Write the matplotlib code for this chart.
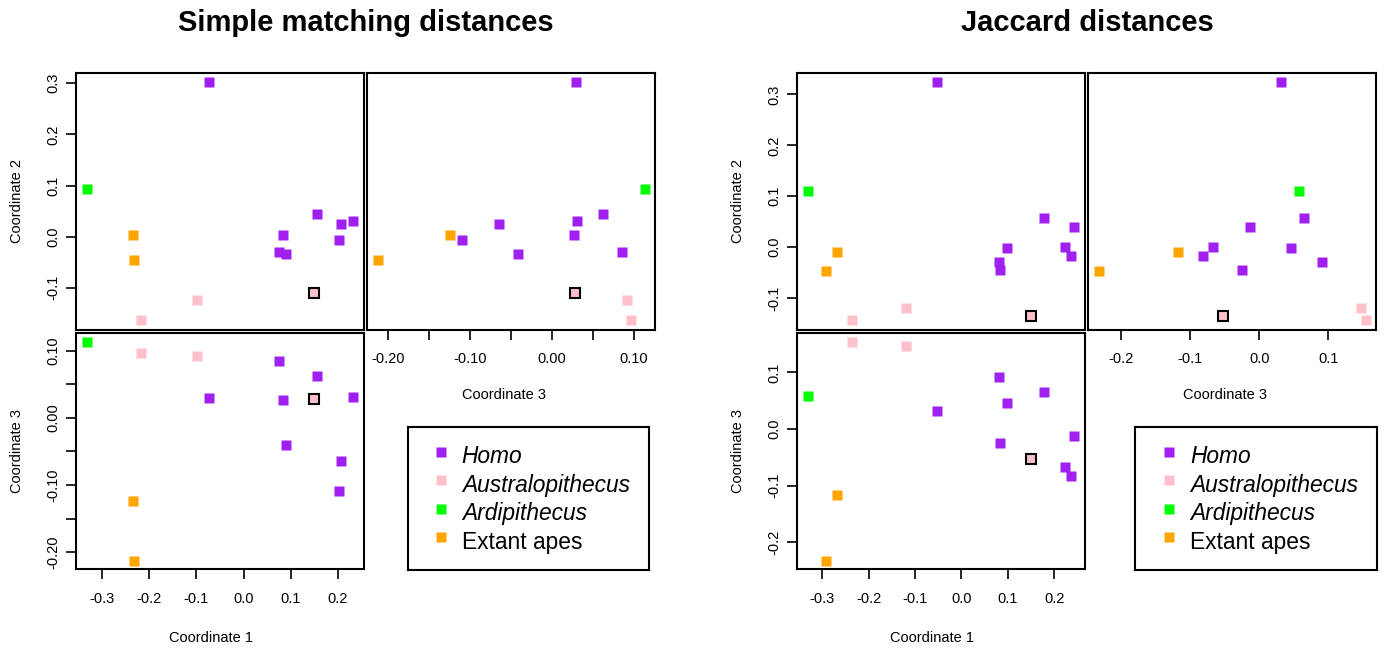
import matplotlib
matplotlib.use("Agg")
import matplotlib.pyplot as plt
from matplotlib.ticker import FixedLocator, FixedFormatter

plt.rcParams['font.family'] = ['Liberation Sans', 'DejaVu Sans']
plt.rcParams['axes.unicode_minus'] = False

W, H = 1385, 649

# ---------------- data ----------------
groups = ["Homo", "Homo", "Homo", "Homo", "Homo", "Homo", "Homo", "Homo",
          "Australopithecus", "Australopithecus", "Ardipithecus",
          "Extant apes", "Extant apes", "Special"]

sm_c1 = [-0.074, 0.084, 0.076, 0.091, 0.156, 0.206, 0.233, 0.203,
         -0.099, -0.217, -0.333, -0.234, -0.233, 0.149]
sm_c2 = [0.302, 0.004, -0.031, -0.033, 0.045, 0.024, 0.030, -0.006,
         -0.124, -0.163, 0.094, 0.003, -0.045, -0.110]
sm_c3 = [0.029, 0.027, 0.085, -0.041, 0.062, -0.064, 0.031, -0.109,
         0.092, 0.096, 0.113, -0.124, -0.212, 0.028]

jc_c1 = [-0.053, 0.097, 0.080, 0.084, 0.177, 0.223, 0.243, 0.236,
         -0.119, -0.235, -0.331, -0.267, -0.292, 0.149]
jc_c2 = [0.324, -0.002, -0.030, -0.045, 0.057, 0.001, 0.039, -0.018,
         -0.120, -0.143, 0.110, -0.009, -0.047, -0.136]
jc_c3 = [0.032, 0.046, 0.091, -0.025, 0.065, -0.067, -0.013, -0.082,
         0.147, 0.154, 0.058, -0.117, -0.232, -0.053]

legend_labels = ["Homo", "Australopithecus", "Ardipithecus", "Extant apes"]
legend_italic = [True, True, True, False]
colors = {"Homo": "#A020F0", "Australopithecus": "#FFC0CB",
          "Ardipithecus": "#00FF00", "Extant apes": "#FFA500",
          "Special": "#FFC0CB"}

titles = ["Simple matching distances", "Jaccard distances"]

# tick specs: (major ticks, labels, minor ticks)
sm_c1_ticks = ([-0.3, -0.2, -0.1, 0.0, 0.1, 0.2],
               ["-0.3", "-0.2", "-0.1", "0.0", "0.1", "0.2"], [])
sm_c2_ticks = ([-0.1, 0.0, 0.1, 0.2, 0.3],
               ["-0.1", "0.0", "0.1", "0.2", "0.3"], [])
sm_c3_ticks = ([-0.20, -0.10, 0.00, 0.10],
               ["-0.20", "-0.10", "0.00", "0.10"], [-0.15, -0.05, 0.05])
jc_c1_ticks = ([-0.3, -0.2, -0.1, 0.0, 0.1, 0.2],
               ["-0.3", "-0.2", "-0.1", "0.0", "0.1", "0.2"], [])
jc_c2_ticks = ([-0.1, 0.0, 0.1, 0.2, 0.3],
               ["-0.1", "0.0", "0.1", "0.2", "0.3"], [])
jc_c3_ticks = ([-0.2, -0.1, 0.0, 0.1],
               ["-0.2", "-0.1", "0.0", "0.1"], [])

# ---------------- layout ----------------
def rect(x0, y0, x1, y1):
    return [x0 / W, 1 - y1 / H, (x1 - x0) / W, (y1 - y0) / H]

fig = plt.figure(figsize=(W / 100, H / 100), dpi=100)

TICK_FS = 10.5
LAB_FS = 10.5
SPINE_LW = 1.5


def style(ax):
    for s in ax.spines.values():
        s.set_linewidth(SPINE_LW)
    ax.tick_params(which='both', length=7, width=1.2, direction='out',
                   labelsize=TICK_FS)
    ax.tick_params(axis='x', pad=9)
    ax.tick_params(axis='y', pad=4)


def set_x(ax, spec, show=True):
    major, labels, minor = spec
    if not show:
        ax.set_xticks([])
        return
    ax.xaxis.set_major_locator(FixedLocator(major))
    ax.xaxis.set_major_formatter(FixedFormatter(labels))
    if minor:
        ax.xaxis.set_minor_locator(FixedLocator(minor))


def set_y(ax, spec, show=True):
    major, labels, minor = spec
    if not show:
        ax.set_yticks([])
        return
    ax.yaxis.set_major_locator(FixedLocator(major))
    ax.yaxis.set_major_formatter(FixedFormatter(labels))
    if minor:
        ax.yaxis.set_minor_locator(FixedLocator(minor))
    for lab in ax.get_yticklabels():
        lab.set_rotation(90)
        lab.set_va('center')


def scatter(ax, xs, ys):
    for x, y, g in zip(xs, ys, groups):
        if g == "Special":
            ax.plot([x], [y], marker='s', ms=7.6, mfc=colors[g], mec='black',
                    mew=1.5, ls='none', zorder=3)
        else:
            ax.plot([x], [y], marker='s', ms=7.2, mfc=colors[g], mec='none',
                    ls='none', zorder=2)
    ax.margins(x=0.04, y=0.04)


def ylab(ax, text, xpix, ax_left):
    ax.set_ylabel(text, fontsize=LAB_FS)
    w = ax.get_position().width * W
    ax.yaxis.set_label_coords((xpix - ax_left) / w, 0.5)
    ax.yaxis.label.set_va('center')


def xlab(ax, text, xpix, ypix, ax_left, ax_bottom):
    ax.set_xlabel(text, fontsize=LAB_FS)
    pos = ax.get_position()
    w = pos.width * W
    h = pos.height * H
    ax.xaxis.set_label_coords((xpix - ax_left) / w, (ax_bottom - ypix) / h)
    ax.xaxis.label.set_va('center')


def draw_group(ox, c1, c2, c3, t1, t2, t3, title, title_x, legend_box, leg_dx):
    L, R1 = ox + 76, ox + 364
    L2, R2 = ox + 367.3, ox + 655.3
    T, B1 = 72.7, 329.5
    T2, B2 = 333, 569.3

    ax_tl = fig.add_axes(rect(L, T, R1, B1))
    ax_tr = fig.add_axes(rect(L2, T, R2, B1))
    ax_bl = fig.add_axes(rect(L, T2, R1, B2))
    for ax in (ax_tl, ax_tr, ax_bl):
        style(ax)

    scatter(ax_tl, c1, c2)
    scatter(ax_tr, c3, c2)
    scatter(ax_bl, c1, c3)

    set_x(ax_tl, t1, show=False)
    set_y(ax_tl, t2)
    set_x(ax_tr, t3)
    set_y(ax_tr, t2, show=False)
    set_x(ax_bl, t1)
    set_y(ax_bl, t3)

    ylab(ax_tl, "Coordinate 2", ox + 16.7, L)
    ylab(ax_bl, "Coordinate 3", ox + 16.7, L)
    xlab(ax_tr, "Coordinate 3", ox + 504, 395, L2, B1)
    xlab(ax_bl, "Coordinate 1", ox + 211.3, 638, L, B2)

    fig.text(title_x / W, 1 - 23 / H, title, fontsize=21, fontweight='bold',
             ha='center', va='center')

    # legend box
    bx0, by0, bx1, by1 = legend_box
    axl = fig.add_axes(rect(bx0, by0, bx1, by1))
    axl.set_xticks([])
    axl.set_yticks([])
    for s in axl.spines.values():
        s.set_linewidth(SPINE_LW)
    bw, bh = bx1 - bx0, by1 - by0
    mark_y = [451.7, 480.0, 508.7, 537.3]
    base_y = [463.3, 491.7, 520.0, 549.0]
    for lab, it, my, byy in zip(legend_labels, legend_italic, mark_y, base_y):
        axl.plot([(32.7 + leg_dx) / bw], [1 - (my - by0) / bh], marker='s',
                 ms=7.0, mfc=colors[lab], mec='none', ls='none',
                 transform=axl.transAxes, clip_on=False)
        axl.text((53.7 + leg_dx) / bw, 1 - (byy - by0) / bh, lab,
                 fontsize=16.4, style='italic' if it else 'normal',
                 ha='left', va='baseline', transform=axl.transAxes)
    axl.set_xlim(0, 1)
    axl.set_ylim(0, 1)


draw_group(0, sm_c1, sm_c2, sm_c3, sm_c1_ticks, sm_c2_ticks, sm_c3_ticks,
           titles[0], 366, (408, 427, 649.3, 570), 0)
draw_group(721, jc_c1, jc_c2, jc_c3, jc_c1_ticks, jc_c2_ticks, jc_c3_ticks,
           titles[1], 1087, (1135, 427, 1376.7, 570), 1.6)

fig.savefig("out.png", dpi=100)
